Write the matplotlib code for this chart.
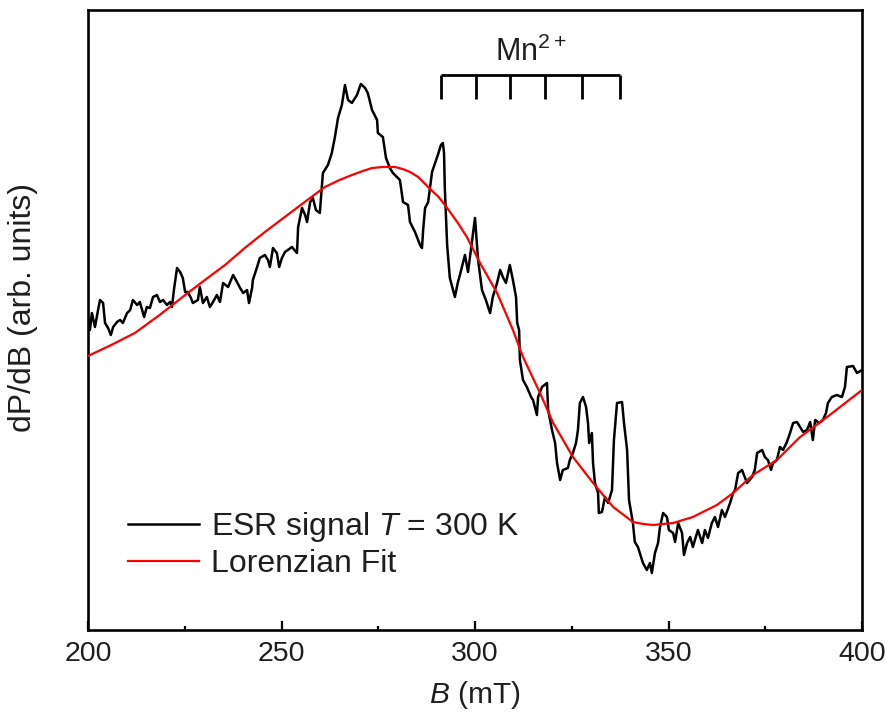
import matplotlib
matplotlib.use("Agg")
import matplotlib.pyplot as plt
from matplotlib.ticker import MultipleLocator

plt.rcParams['font.family'] = ['Liberation Sans', 'DejaVu Sans']
plt.rcParams['mathtext.fontset'] = 'custom'
plt.rcParams['mathtext.rm'] = 'Liberation Sans'
plt.rcParams['mathtext.it'] = 'Liberation Sans:italic'

# ESR signal (B in mT, dP/dB in arb. units)
esr_B = [200.0, 200.5, 201.0, 201.8, 202.6, 203.1, 203.9, 204.4, 205.2, 205.9,
         206.5, 207.5, 208.3, 209.0, 210.1, 210.9, 211.6, 212.7, 213.4, 214.5,
         215.2, 216.0, 216.8, 217.8, 218.6, 219.4, 220.4, 221.2, 221.7, 222.2,
         223.0, 223.8, 224.5, 225.1, 225.8, 226.6, 227.1, 228.4, 228.9, 229.7,
         230.7, 231.5, 232.3, 233.3, 234.1, 234.9, 236.2, 237.5, 238.5, 239.3,
         240.1, 241.1, 241.6, 242.4, 242.6, 243.7, 244.4, 245.7, 246.5, 247.0,
         247.8, 248.8, 249.4, 250.1, 250.9, 252.7, 254.0, 254.3, 255.3, 256.1,
         256.6, 257.4, 258.1, 258.9, 259.9, 260.7, 262.0, 263.0, 263.8, 264.6,
         265.6, 266.4, 267.2, 268.2, 269.5, 270.5, 271.6, 272.3, 273.4, 274.7,
         274.9, 276.2, 277.0, 278.0, 278.8, 279.3, 280.6, 281.4, 282.7, 283.2,
         284.5, 285.8, 286.3, 286.6, 287.1, 287.9, 288.9, 289.7, 290.4, 291.2,
         291.7, 292.0, 292.2, 292.8, 293.5, 294.8, 295.6, 296.1, 297.4, 298.2,
         299.2, 300.0, 300.8, 301.8, 302.8, 303.9, 304.6, 305.7, 306.5, 307.2,
         308.0, 309.0, 309.8, 310.6, 310.9, 311.4, 311.6, 312.4, 313.4, 314.5,
         315.0, 316.0, 316.3, 317.3, 318.6, 318.9, 319.9, 320.7, 321.2, 322.0,
         322.7, 324.0, 324.5, 325.3, 326.1, 326.6, 327.1, 327.9, 328.7, 329.2,
         329.5, 330.2, 330.5, 331.0, 331.8, 332.0, 332.8, 333.6, 334.4, 335.4,
         335.9, 336.7, 338.0, 338.5, 339.3, 339.8, 340.8, 341.3, 342.1, 342.9,
         343.4, 344.4, 345.2, 345.7, 346.5, 347.3, 347.8, 348.6, 349.6, 350.1,
         351.2, 351.7, 352.5, 353.5, 354.0, 354.8, 355.6, 356.3, 357.6, 358.7,
         359.4, 360.2, 361.2, 362.0, 362.8, 363.8, 364.6, 365.9, 366.7, 367.2,
         368.0, 369.0, 370.3, 371.6, 372.3, 372.9, 374.2, 374.9, 375.7, 376.5,
         377.0, 378.0, 378.8, 379.6, 380.6, 381.4, 382.2, 383.2, 384.0, 384.8,
         385.8, 386.6, 387.3, 387.9, 388.9, 389.9, 390.7, 391.2, 392.2, 393.5,
         394.8, 395.6, 396.1, 397.7, 398.7, 400.0]
esr_S = [2.7, 1.5, 3.2, 1.8, 3.5, 4.5, 4.2, 2.2, 1.7, 1.0,
         1.8, 2.3, 2.5, 2.2, 3.2, 3.5, 4.5, 4.0, 4.3, 2.8,
         3.8, 3.7, 4.8, 5.0, 4.3, 4.5, 4.0, 4.3, 3.8, 5.5,
         7.7, 7.3, 6.7, 5.3, 5.3, 4.7, 4.2, 4.5, 5.8, 4.2,
         4.8, 3.8, 4.3, 5.0, 4.3, 6.2, 5.8, 7.0, 6.3, 5.7,
         5.2, 5.5, 4.2, 5.7, 6.5, 7.8, 8.7, 9.0, 8.5, 7.8,
         9.7, 9.2, 7.8, 8.7, 9.3, 9.8, 9.2, 11.8, 13.7, 13.0,
         12.3, 14.3, 14.7, 13.5, 13.2, 17.2, 18.0, 19.2, 20.8, 22.7,
         24.0, 26.0, 24.5, 24.2, 25.0, 26.1, 25.7, 25.2, 23.5, 22.5,
         21.2, 20.8, 18.7, 17.7, 17.2, 17.0, 16.5, 14.3, 14.0, 12.3,
         11.3, 10.0, 9.7, 11.5, 13.7, 14.3, 17.3, 18.2, 19.0, 20.0,
         20.2, 19.2, 15.7, 10.0, 6.7, 4.8, 6.3, 7.0, 9.0, 7.3,
         10.3, 12.7, 8.5, 5.5, 4.5, 3.2, 4.8, 6.2, 7.5, 6.8,
         6.2, 8.0, 6.5, 4.8, 2.2, 1.5, -1.5, -3.5, -4.2, -5.2,
         -5.5, -7.0, -5.2, -4.2, -3.8, -6.5, -8.5, -9.8, -11.8, -13.5,
         -12.5, -12.3, -11.5, -10.8, -9.8, -8.5, -5.8, -5.2, -6.2, -7.8,
         -9.8, -8.8, -11.8, -13.8, -14.8, -16.8, -16.7, -15.2, -15.8, -14.5,
         -9.5, -5.8, -5.7, -7.8, -10.5, -15.5, -17.8, -19.7, -20.2, -21.2,
         -21.8, -22.5, -21.8, -22.8, -20.8, -19.8, -18.2, -16.8, -17.2, -18.5,
         -18.8, -19.7, -17.8, -18.8, -21.0, -19.8, -19.2, -20.2, -18.5, -19.8,
         -18.5, -19.3, -17.8, -17.2, -18.2, -16.5, -17.2, -15.8, -14.8, -14.5,
         -12.8, -12.5, -13.8, -13.2, -12.5, -10.8, -10.5, -11.2, -11.5, -12.5,
         -11.8, -11.5, -10.2, -10.5, -9.7, -8.8, -7.8, -7.7, -8.2, -8.7,
         -8.5, -7.7, -9.5, -7.5, -7.8, -7.5, -6.8, -5.8, -5.2, -5.0,
         -5.2, -4.2, -2.2, -2.1, -2.8, -2.5]

# Lorentzian fit
fit_B = [200.0, 206.0, 212.1, 218.5, 225.1, 230.2, 235.4, 240.5, 245.7, 250.5,
         255.3, 261.2, 265.0, 268.2, 271.0, 273.4, 276.2, 279.3, 281.3, 283.2,
         285.3, 288.4, 290.6, 292.8, 295.4, 297.9, 301.3, 305.7, 309.8, 312.4,
         316.8, 320.2, 325.3, 330.5, 335.7, 340.8, 343.5, 346.0, 351.2, 356.3,
         362.5, 366.7, 371.8, 378.0, 384.0, 391.0, 400.0]
fit_S = [-1.1, 0.0, 1.2, 3.0, 5.0, 6.5, 8.0, 9.7, 11.3, 12.7,
         14.1, 15.8, 16.5, 17.0, 17.4, 17.7, 17.8, 17.8, 17.6, 17.3,
         16.8, 15.6, 14.8, 13.7, 12.3, 10.8, 8.2, 5.2, 1.5, -1.2,
         -4.8, -7.8, -11.2, -13.8, -16.2, -17.7, -17.9, -18.0, -17.8, -17.2,
         -16.0, -14.8, -13.0, -11.5, -9.2, -7.2, -4.5]

# Mn2+ hyperfine line positions (mT)
mn_lines = [291.2, 300.3, 309.0, 318.1, 327.6, 337.5]
x_ticks = [200, 250, 300, 350, 400]

TXT = '#1e1e1e'
fig = plt.figure(figsize=(8.86, 7.15), dpi=100)
ax = fig.add_axes([88/886, 85/715, 774/886, 620/715])

ax.plot(esr_B, esr_S, color='black', lw=1.8, label='ESR signal $T$ = 300 K', zorder=2)
ax.plot(fit_B, fit_S, color='#ff0000', lw=1.6, label='Lorenzian Fit', zorder=3)

# Mn2+ bracket
bar_y, tick_y = 27.0, 24.6
ax.hlines(bar_y, mn_lines[0], mn_lines[-1], color='black', lw=2.0)
ax.vlines(mn_lines, tick_y, bar_y, color='black', lw=2.0)
ax.text((mn_lines[0] + mn_lines[-1]) / 2, 29.3, 'Mn$^{2+}$', ha='center', va='center',
        fontsize=22, color=TXT)

ax.set_xlim(200, 400)
ax.set_ylim(-28.5, 33.5)
ax.set_xticks(x_ticks)
ax.xaxis.set_minor_locator(MultipleLocator(25))
ax.set_yticks([])
ax.tick_params(axis='x', which='major', direction='in', length=6.8, width=1.6,
               labelsize=20.5, pad=8, colors='black', labelcolor=TXT)
ax.tick_params(axis='x', which='minor', direction='in', length=2.8, width=1.6)
for s in ax.spines.values():
    s.set_linewidth(1.9)

ax.set_xlabel('$B$ (mT)', fontsize=21.5, color=TXT)
ax.xaxis.set_label_coords(0.5, -0.079)
ax.set_ylabel('dP/dB (arb. units)', fontsize=23, color=TXT)
ax.yaxis.set_label_coords(-0.065, 0.52)

leg = ax.legend(loc='upper left', bbox_to_anchor=(0.052, 0.194), frameon=False,
                fontsize=23, handlelength=2.22, handletextpad=0.36,
                labelspacing=0.16, borderpad=0, borderaxespad=0)
for t in leg.get_texts():
    t.set_color(TXT)

fig.savefig('out.png', dpi=100)
